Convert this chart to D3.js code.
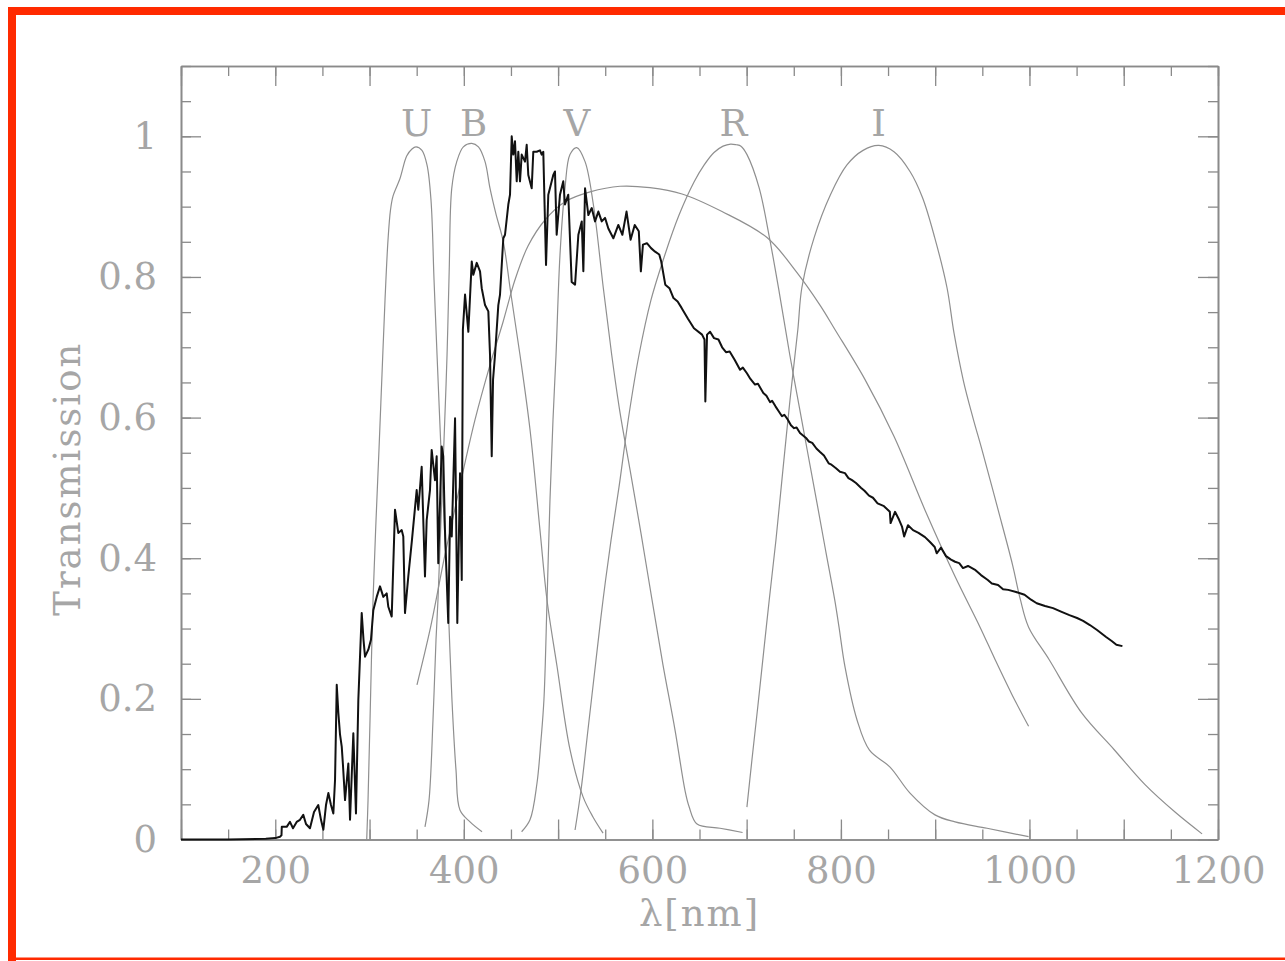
<!DOCTYPE html>
<html>
<head>
<meta charset="utf-8">
<script src="https://cdn.jsdelivr.net/npm/d3@7"></script>
<style>
  body { margin: 0; background: #fff; }
</style>
</head>
<body>
<svg id="chart" width="1285" height="961"></svg>
<script>
// filter names and peak wavelengths (nm) for the labels
var filterNames = ["U", "B", "V", "R", "I"]
var filterPeaks = [350, 410.5, 520, 686, 840]

// filter transmission curves [nm, T]
var filterU = [[297,0],[298.4,0.056],[300.5,0.17],[303.7,0.341],[306.9,0.455],[310,0.554],[313.2,0.661],
  [316.4,0.767],[319.6,0.853],[322.2,0.895],[324.9,0.915],[332.3,0.94],[339.4,0.972],[345,0.982],[349.3,0.985],
  [355.6,0.98],[361,0.959],[365.2,0.909],[368.4,0.796],[371.6,0.689],[375.8,0.554],[380,0.426],[383.2,0.341],
  [387.4,0.199],[391.7,0.099],[395.9,0.042],[406.6,0.025],[419.3,0.011]]

var filterB = [[358.8,0.018],[363.1,0.056],[367.3,0.17],[370.5,0.284],[372.6,0.341],[375.8,0.455],[379,0.568],
  [382.2,0.689],[384.5,0.81],[387.2,0.926],[392.5,0.964],[399.5,0.985],[408.4,0.99],[415.5,0.985],[422.5,0.964],
  [427.8,0.926],[434,0.89],[441.9,0.85],[449.5,0.78],[459.6,0.689],[470.2,0.583],[480.8,0.44],[488.2,0.341],
  [498.9,0.246],[512.6,0.128],[526.4,0.061],[537,0.032],[547.7,0.009]]

var filterV = [[461.3,0.011],[470.2,0.028],[477.6,0.08],[481.9,0.142],[485,0.199],[488.3,0.341],[491.4,0.483],
  [494.6,0.597],[497.8,0.689],[502,0.831],[507.3,0.926],[512.6,0.974],[519.8,0.984],[528.6,0.964],[537.4,0.903],
  [548,0.784],[556.9,0.689],[565.7,0.607],[576.3,0.526],[588,0.435],[599.6,0.341],[611.3,0.248],[624,0.156],
  [634.6,0.07],[638.9,0.047],[647.4,0.022],[671.8,0.016],[695.7,0.01]]

var filterR = [[518,0.0135],[524.3,0.07],[531.7,0.156],[540.2,0.255],[547.7,0.341],[556.2,0.426],[564.6,0.501],
  [575.2,0.604],[585.8,0.689],[598.5,0.767],[613.4,0.832],[628.3,0.888],[644.2,0.935],[654.8,0.959],[665.4,0.977],
  [675,0.986],[683,0.989],[689,0.988],[694,0.986],[700.4,0.974],[713.2,0.927],[724.2,0.856],[735,0.775],
  [745.8,0.689],[753.4,0.633],[764.1,0.555],[774.7,0.478],[784.2,0.408],[793.4,0.341],[798,0.302],[804.4,0.245],
  [817.1,0.17],[830.3,0.127],[852.1,0.103],[873.3,0.066],[899.8,0.035],[921.1,0.025],[955,0.016],[999.1,0.004]]

var filterI = [[700.3,0.046],[705.6,0.113],[712,0.191],[718.3,0.27],[724,0.341],[731.1,0.426],[738.5,0.526],
  [746,0.625],[754.3,0.725],[758.6,0.785],[771.6,0.856],[788.9,0.917],[806.2,0.959],[823.5,0.98],[840.2,0.987],
  [856.3,0.978],[873.3,0.95],[886.5,0.913],[899.5,0.856],[912.5,0.785],[920,0.72],[930,0.652],[940,0.6],
  [950.1,0.552],[966.7,0.469],[982,0.391],[990.4,0.341],[999.1,0.302],[1020.8,0.256],[1055.4,0.18],
  [1089.7,0.128],[1122.6,0.078],[1154.4,0.039],[1183.1,0.008]]

// detector efficiency curve
var detectorQE = [[350.3,0.22],[364.1,0.298],[380,0.405],[396,0.504],[411.9,0.597],[427.8,0.675],[441.6,0.736],
  [454.3,0.796],[468.1,0.844],[486.1,0.881],[507.4,0.907],[533.9,0.921],[565.7,0.929],[597.5,0.927],[631.5,0.918],
  [673.9,0.893],[721.6,0.856],[752.4,0.808],[777.8,0.76],[793.8,0.725],[825.6,0.654],[856.4,0.573],[890.3,0.465],
  [921.1,0.374],[947.6,0.302],[963.5,0.256],[981.5,0.206],[999.1,0.161]]

// stellar spectrum, normalised
var spectrum = [[100,0],[150,0],[190,0.001],[200,0.002],[205,0.004],[206.6,0.006],[206.9,0.018],[212.1,0.018],
  [215.6,0.025],[218.8,0.016],[222.7,0.025],[226.2,0.028],[229.7,0.035],[232.6,0.022],[236.8,0.016],[241.1,0.039],
  [245.6,0.049],[248.5,0.028],[251,0.014],[253.8,0.049],[256.3,0.066],[259.1,0.049],[261.6,0.037],[263.4,0.085],
  [265.2,0.22],[266.9,0.18],[268.7,0.149],[270.5,0.132],[271.8,0.106],[274,0.056],[277.5,0.108],[279.3,0.028],
  [282.8,0.151],[285.6,0.037],[288.1,0.198],[291.7,0.322],[293.6,0.284],[295.2,0.26],[298.7,0.27],[301.5,0.284],
  [304,0.326],[307.6,0.345],[311.1,0.36],[314.6,0.345],[318.2,0.35],[319.9,0.331],[323.5,0.317],[327,0.469],
  [330.5,0.436],[334.1,0.44],[335.8,0.431],[337.6,0.322],[341.1,0.374],[345,0.426],[350,0.497],[351.7,0.469],
  [355.3,0.53],[358.8,0.374],[360.6,0.454],[364.1,0.497],[365.9,0.554],[369.4,0.511],[371.2,0.545],[372.9,0.393],
  [376.5,0.559],[378.2,0.545],[380,0.44],[383.5,0.308],[385.4,0.459],[387.2,0.431],[390.7,0.599],[393.1,0.308],
  [396,0.521],[397.8,0.369],[399,0.725],[401.3,0.775],[404.8,0.722],[408.4,0.822],[410.1,0.803],[413.7,0.82],
  [417.2,0.808],[419,0.784],[422.5,0.76],[426,0.751],[427.8,0.689],[429.6,0.545],[431,0.654],[433.1,0.689],
  [436.6,0.76],[438.4,0.775],[441.9,0.855],[443.7,0.86],[447.2,0.903],[449,0.917],[450.8,1.0],[452.5,0.974],
  [454.3,0.993],[456.1,0.936],[457.8,0.978],[459.6,0.936],[461.4,0.974],[464.9,0.964],[466.7,0.988],[468.4,0.945],
  [472,0.926],[473.7,0.978],[477.3,0.978],[480.8,0.98],[482.6,0.974],[484.3,0.978],[486.1,0.879],[487.2,0.817],
  [489.6,0.917],[494.9,0.945],[496.7,0.95],[498.5,0.86],[502,0.917],[505.5,0.936],[507.3,0.903],[510.8,0.917],
  [514.4,0.793],[518,0.789],[521.5,0.86],[525.1,0.879],[526.8,0.808],[528.6,0.926],[532.1,0.888],[535.7,0.898],
  [539.2,0.879],[542.7,0.893],[546.3,0.879],[549.8,0.884],[553.3,0.869],[558.6,0.855],[563.9,0.874],[568.2,0.86],
  [572.6,0.893],[576.9,0.853],[581.3,0.874],[585.6,0.865],[587.8,0.808],[590,0.846],[594.2,0.848],[598.6,0.841],
  [602.9,0.836],[607.3,0.832],[609.4,0.822],[613.7,0.789],[618.1,0.784],[622.4,0.77],[626.8,0.765],[631,0.756],
  [637.6,0.741],[644.1,0.727],[652.7,0.718],[655.3,0.711],[656.2,0.623],[658,0.718],[661.2,0.722],[665.4,0.713],
  [670.1,0.711],[674,0.7],[678.1,0.693],[682,0.694],[687.4,0.682],[693,0.668],[696,0.671],[700.3,0.663],
  [704,0.655],[708.9,0.647],[712,0.648],[717.7,0.635],[721,0.631],[724.8,0.622],[727,0.624],[730.6,0.616],
  [734,0.609],[737.5,0.602],[740,0.604],[743.7,0.597],[747,0.589],[750.3,0.585],[753,0.586],[756.6,0.578],
  [763,0.571],[766,0.566],[769.6,0.564],[774,0.556],[777.9,0.551],[782,0.546],[787,0.535],[790,0.533],
  [794.8,0.528],[799,0.523],[804.3,0.521],[808,0.514],[811.8,0.511],[816,0.507],[821.5,0.5],[825,0.496],
  [829.8,0.489],[834,0.486],[838.9,0.478],[845.7,0.474],[851.9,0.466],[852.7,0.45],[857.4,0.466],[861.6,0.455],
  [864.8,0.445],[867.1,0.431],[871.2,0.447],[876.5,0.44],[882.3,0.436],[889.2,0.43],[894.5,0.423],[899.5,0.416],
  [901.6,0.407],[906.2,0.415],[911.5,0.403],[916.8,0.398],[921.1,0.395],[925.5,0.393],[929.5,0.386],[934.8,0.389],
  [942.8,0.383],[948.6,0.376],[955.8,0.369],[960.1,0.364],[966.7,0.362],[972,0.356],[977.5,0.355],[985.8,0.352],
  [994.8,0.348],[1001.7,0.341],[1007.7,0.336],[1016.5,0.332],[1025,0.329],[1033.5,0.324],[1042.4,0.319],
  [1050.5,0.315],[1056.9,0.311],[1064.1,0.305],[1071.7,0.298],[1081.3,0.288],[1087.6,0.282],[1092.2,0.277],
  [1098.6,0.275]]

// axis ticks
var xMinorTicks = d3.range(0, 23).map(i => 100 + i * 50)
var xMajorTicks = d3.range(0, 12).map(i => 100 + i * 100)
var xLabels = [200, 400, 600, 800, 1000, 1200]
var yMinorTicks = d3.range(0, 23).map(i => i * 0.05)
var yMajorTicks = [0, 0.2, 0.4, 0.6, 0.8, 1.0]

const W = 1285, H = 961
const margin = {top: 66, right: 67, bottom: 121.5, left: 181}
const FONT = "DejaVu Serif, serif"
const AXIS_COL = "#8a8a8a", TEXT_COL = "#a6a6a6"

let svg = d3.select("#chart")

// red frame around the figure
svg.append("rect").attr("x", 8).attr("y", 7).attr("width", W).attr("height", 8).attr("fill", "#ff2a00")
svg.append("rect").attr("x", 8).attr("y", 7).attr("width", 8).attr("height", H).attr("fill", "#ff2a00")
svg.append("rect").attr("x", 8).attr("y", 957.5).attr("width", W).attr("height", 2.5).attr("fill", "#ff2a00")

let x = d3.scaleLinear().domain([100, 1200]).range([margin.left, W - margin.right])
let y = d3.scaleLinear().domain([0, 1.1]).range([H - margin.bottom, margin.top])

let x0 = margin.left, x1 = W - margin.right, y0 = H - margin.bottom, y1 = margin.top

function addAxis(axis, transform) {
  let g = svg.append("g")
    .attr("transform", transform)
    .call(axis)
  // d3 puts its own font on the group, so override after the call
  g.attr("color", AXIS_COL)
    .attr("font-family", FONT)
    .attr("font-size", 37)
  g.selectAll("line").attr("stroke-width", 1.3)
  g.select(".domain").attr("stroke-width", 1.6)
  g.selectAll("text").attr("fill", TEXT_COL)
  return g
}

// bottom
addAxis(d3.axisBottom(x).tickValues(xMinorTicks).tickSize(-10).tickSizeOuter(0).tickFormat(""), `translate(0,${y0})`)
addAxis(d3.axisBottom(x).tickValues(xMajorTicks).tickSize(-20).tickSizeOuter(0).tickPadding(17)
  .tickFormat(d => xLabels.includes(d) ? d : ""), `translate(0,${y0})`)
// top
addAxis(d3.axisTop(x).tickValues(xMinorTicks).tickSize(-10).tickSizeOuter(0).tickFormat(""), `translate(0,${y1})`)
addAxis(d3.axisTop(x).tickValues(xMajorTicks).tickSize(-20).tickSizeOuter(0).tickFormat(""), `translate(0,${y1})`)
// left
addAxis(d3.axisLeft(y).tickValues(yMinorTicks).tickSize(-10).tickSizeOuter(0).tickFormat(""), `translate(${x0},0)`)
addAxis(d3.axisLeft(y).tickValues(yMajorTicks).tickSize(-20).tickSizeOuter(0).tickPadding(24)
  .tickFormat(d3.format(".2~g")), `translate(${x0},0)`)
// right
addAxis(d3.axisRight(y).tickValues(yMinorTicks).tickSize(-10).tickSizeOuter(0).tickFormat(""), `translate(${x1},0)`)
addAxis(d3.axisRight(y).tickValues(yMajorTicks).tickSize(-20).tickSizeOuter(0).tickFormat(""), `translate(${x1},0)`)

// axis titles
svg.append("text")
  .attr("x", (x0 + x1) / 2).attr("y", 926)
  .attr("text-anchor", "middle")
  .attr("font-family", FONT).attr("font-size", 37)
  .attr("letter-spacing", 2)
  .attr("fill", TEXT_COL)
  .text("λ[nm]")

svg.append("text")
  .attr("transform", `translate(80,${(y0 + y1) / 2 + 26}) rotate(-90)`)
  .attr("text-anchor", "middle")
  .attr("font-family", FONT).attr("font-size", 37)
  .attr("letter-spacing", 2)
  .attr("fill", TEXT_COL)
  .text("Transmission")

let line = d3.line().x(d => x(d[0])).y(d => y(d[1]))
let smooth = d3.line().x(d => x(d[0])).y(d => y(d[1])).curve(d3.curveCatmullRom.alpha(0.5))

let curves = [filterU, filterB, filterV, filterR, filterI, detectorQE]
svg.selectAll(".filter")
  .data(curves)
  .enter()
  .append("path")
  .attr("class", "filter")
  .attr("d", smooth)
  .attr("fill", "none")
  .attr("stroke", "#8f8f8f")
  .attr("stroke-width", 1.2)

svg.append("path")
  .datum(spectrum)
  .attr("d", line)
  .attr("fill", "none")
  .attr("stroke", "#111")
  .attr("stroke-width", 2)
  .attr("stroke-linejoin", "round")

// filter band labels
svg.selectAll(".band")
  .data(filterNames)
  .enter()
  .append("text")
  .attr("class", "band")
  .attr("x", (d, i) => x(filterPeaks[i]))
  .attr("y", y(1.0))
  .attr("text-anchor", "middle")
  .attr("font-family", FONT).attr("font-size", 37)
  .attr("fill", TEXT_COL)
  .text(d => d)
</script>
</body>
</html>
